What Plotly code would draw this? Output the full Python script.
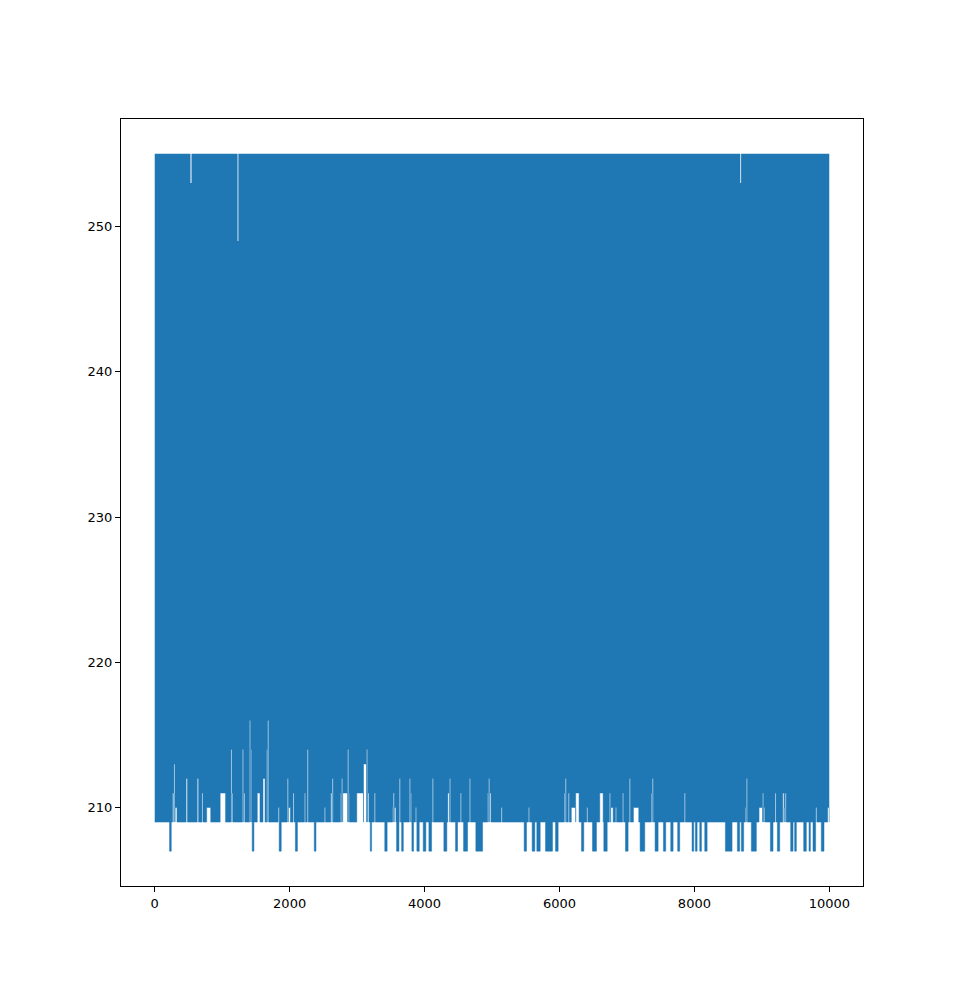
import plotly.graph_objects as go

# === Data ===
# the series swings between a ceiling and a floor; only the envelope is visible
top_level = 255
floor_level = 209
x_first = 0
x_last = 9999

# features of the lower edge: start x, end x, value
low_start = [220, 265, 285, 300, 465, 630, 700, 770, 970, 1130, 1145, 1300, 1315, 1405, 1420,
             1445, 1520, 1605, 1660, 1675, 1830, 1845, 1965, 1980, 2050, 2085, 2220, 2260, 2365,
             2515, 2610, 2630, 2755, 2770, 2785, 2860, 2875, 2995, 3095, 3140, 3155, 3195, 3255,
             3410, 3525, 3535, 3550, 3585, 3625, 3660, 3775, 3790, 3812, 3865, 3886, 3980, 4064,
             4115, 4286, 4345, 4370, 4459, 4530, 4578, 4665, 4760, 4935, 4950, 4965, 5135, 5476,
             5540, 5595, 5664, 5793, 5941, 6070, 6085, 6130, 6175, 6240, 6326, 6405, 6489, 6597,
             6657, 6740, 6760, 6830, 6935, 6978, 7035, 7096, 7195, 7360, 7375, 7417, 7541, 7649,
             7752, 7850, 7965, 8015, 8079, 8153, 8459, 8637, 8696, 8755, 8770, 8844, 8958, 9010,
             9025, 9126, 9195, 9230, 9310, 9330, 9345, 9427, 9486, 9620, 9699, 9758, 9800, 9881,
             9975]
low_end = [245, 285, 300, 330, 485, 650, 715, 830, 1050, 1145, 1160, 1315, 1335, 1420, 1435,
           1470, 1560, 1635, 1675, 1690, 1845, 1875, 1980, 2010, 2065, 2115, 2235, 2275, 2390,
           2530, 2630, 2645, 2770, 2785, 2860, 2875, 2885, 3095, 3140, 3155, 3175, 3215, 3270,
           3445, 3535, 3550, 3575, 3620, 3640, 3685, 3790, 3805, 3837, 3880, 3921, 4019, 4104,
           4130, 4330, 4370, 4385, 4489, 4545, 4637, 4680, 4860, 4950, 4965, 4985, 5150, 5511,
           5555, 5634, 5714, 5896, 5980, 6085, 6100, 6145, 6240, 6290, 6360, 6420, 6548, 6647,
           6707, 6755, 6795, 6845, 6950, 7017, 7050, 7175, 7264, 7375, 7390, 7462, 7575, 7684,
           7782, 7865, 7990, 8040, 8104, 8188, 8558, 8671, 8730, 8770, 8785, 8918, 9010, 9025,
           9042, 9165, 9210, 9264, 9330, 9345, 9360, 9462, 9511, 9659, 9719, 9797, 9815, 9921,
           9999]
low_value = [207, 211, 213, 210, 212, 212, 211, 210, 211, 214, 211, 214, 211, 216, 214,
             207, 211, 212, 214, 216, 210, 207, 212, 210, 211, 207, 211, 214, 207,
             210, 211, 212, 211, 212, 211, 214, 211, 211, 213, 214, 211, 207, 211,
             207, 210, 211, 210, 207, 212, 207, 212, 211, 207, 210, 207, 207, 207,
             212, 207, 211, 212, 207, 211, 207, 212, 207, 211, 212, 211, 210, 207,
             210, 207, 207, 207, 207, 211, 212, 211, 210, 211, 207, 210, 207, 211,
             207, 211, 210, 210, 211, 207, 212, 210, 207, 211, 212, 207, 207, 207,
             207, 211, 207, 207, 207, 207, 207, 207, 207, 210, 212, 207, 210, 211,
             210, 207, 211, 207, 211, 210, 211, 207, 207, 207, 207, 207, 210, 207,
             210]

# notches in the upper edge
high_start = [530, 1228, 8680]
high_end = [545, 1240, 8692]
high_value = [253, 249, 253]

x_ticks = [0, 2000, 4000, 6000, 8000, 10000]
x_labels = ["0", "2000", "4000", "6000", "8000", "10000"]
y_ticks = [210, 220, 230, 240, 250]

color = "#1f77b4"


def edge(base, starts, ends, values):
    xs, ys = [x_first], [base]
    for s, e, v in zip(starts, ends, values):
        xs += [s, e]
        ys += [v, base]
    xs.append(x_last)
    ys.append(base)
    return xs, ys


up_x, up_y = edge(top_level, high_start, high_end, high_value)
lo_x, lo_y = edge(floor_level, low_start, low_end, low_value)

fig = go.Figure()
fig.add_trace(go.Scatter(x=up_x, y=up_y, mode="lines", line=dict(color=color, width=0, shape="hv"),
                         showlegend=False, hoverinfo="skip"))
fig.add_trace(go.Scatter(x=lo_x, y=lo_y, mode="lines", line=dict(color=color, width=0.5, shape="hv"),
                         fill="tonexty", fillcolor=color, showlegend=False, hoverinfo="skip"))

axis_style = dict(showgrid=False, zeroline=False, showline=True, linecolor="black", linewidth=1,
                  mirror=True, ticks="outside", ticklen=5, tickcolor="black", tickwidth=1,
                  tickfont=dict(family="DejaVu Sans", size=13, color="black"))

fig.update_layout(
    width=958, height=994,
    margin=dict(l=113, r=103, t=111, b=116),
    plot_bgcolor="white", paper_bgcolor="white",
    xaxis=dict(range=[-500, 10499], tickvals=x_ticks, ticktext=x_labels, **axis_style),
    yaxis=dict(range=[204.6, 257.4], tickvals=y_ticks, **axis_style),
)

fig.write_html("out.html")
